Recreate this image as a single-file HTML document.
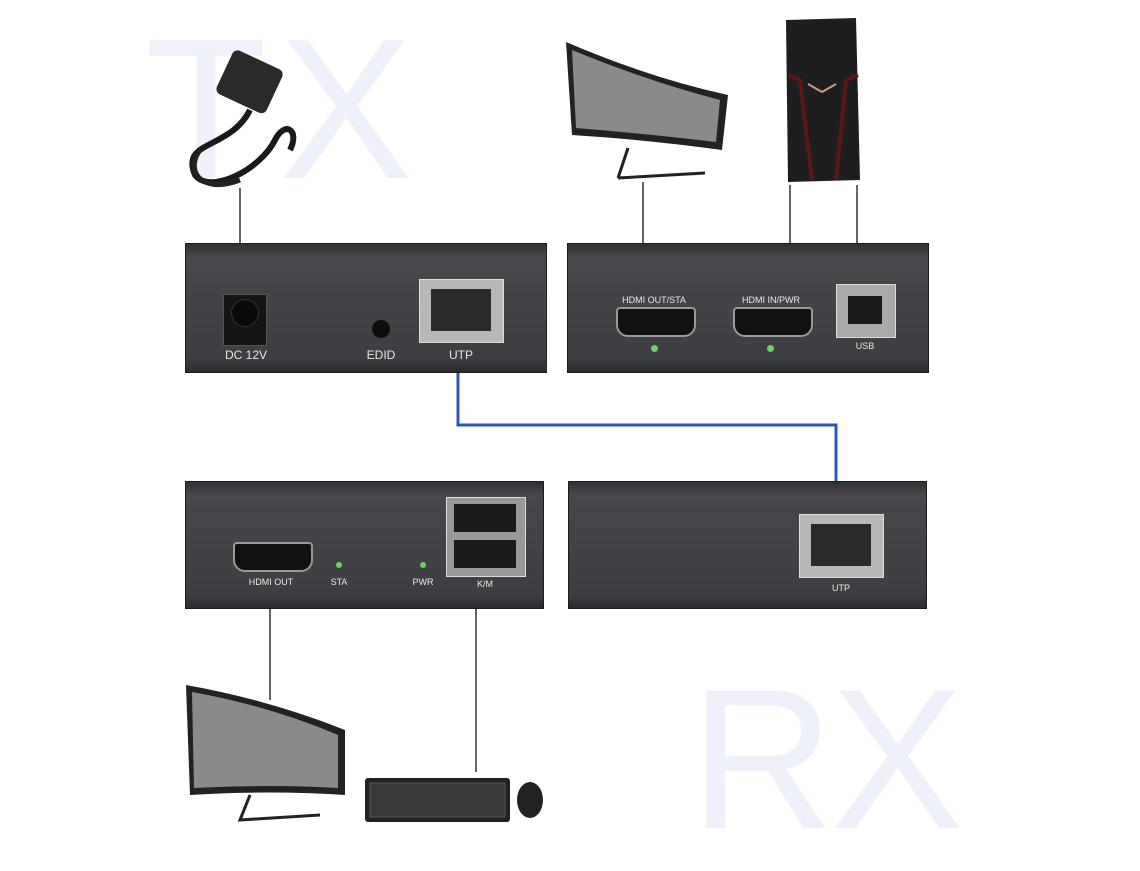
<!DOCTYPE html>
<html><head><meta charset="utf-8"><style>
html,body{margin:0;padding:0;background:#fff;}
body{width:1140px;height:855px;position:relative;overflow:hidden;font-family:"Liberation Sans",sans-serif;}
.big{position:absolute;font-size:200px;font-weight:400;color:#eef1f9;line-height:1;}
.box{position:absolute;background:linear-gradient(#2f3135,#46484c 10%,#3c3e42 90%,#2a2b2e);border:1px solid #1c1d1f;}
.lbl{position:absolute;color:#e8e8e8;font-size:12px;text-align:center;}
.sm{font-size:9px;}
</style></head><body>
<div class="big" style="left:145px;top:10px;letter-spacing:12px;">TX</div>
<div class="big" style="left:690px;top:660px;letter-spacing:-4px;">RX</div>

<svg width="1140" height="855" style="position:absolute;left:0;top:0">
<g stroke="#333" stroke-width="1.5">
<line x1="240" y1="188" x2="240" y2="245"/>
<line x1="643" y1="182" x2="643" y2="245"/>
<line x1="790" y1="185" x2="790" y2="245"/>
<line x1="857" y1="185" x2="857" y2="245"/>
<line x1="270" y1="608" x2="270" y2="700"/>
<line x1="476" y1="606" x2="476" y2="772"/>
</g>
<polyline points="458,372 458,425 836,425 836,500" fill="none" stroke="#2a57b8" stroke-width="3"/>
<g>
<rect x="222" y="58" width="55" height="48" rx="6" fill="#2a2a2a" transform="rotate(25 250 82)"/>
<path d="M250 110 C230 150 180 140 195 175 C210 195 260 170 275 140 C285 120 300 130 290 150" stroke="#1a1a1a" stroke-width="6" fill="none"/>
<path d="M200 150 C185 170 200 195 240 180" stroke="#222" stroke-width="5" fill="none"/>
</g>
<path d="M566 42 Q650 78 728 95 L722 150 Q650 140 572 135 Z" fill="#222"/>
<path d="M572 50 Q650 82 720 100 L716 142 Q650 134 576 128 Z" fill="#8a8a8a"/>
<path d="M628 148 L618 178 M618 178 L705 173" stroke="#222" stroke-width="3" fill="none"/>
<path d="M786 20 L856 18 L860 180 L788 182 Z" fill="#1e1e20"/>
<path d="M788 75 L800 80 L812 180 M858 75 L846 80 L836 180" stroke="#5a1616" stroke-width="4" fill="none"/>
<path d="M808 84 L822 92 L836 84" stroke="#c9a080" stroke-width="2" fill="none"/>
<path d="M186 685 Q270 700 345 730 L345 795 Q270 790 190 795 Z" fill="#222"/>
<path d="M192 692 Q270 706 338 735 L338 788 Q270 784 194 788 Z" fill="#8a8a8a"/>
<path d="M250 795 L240 820 L320 815" stroke="#222" stroke-width="3" fill="none"/>
<rect x="365" y="778" width="145" height="44" rx="3" fill="#222"/>
<rect x="370" y="783" width="135" height="34" fill="#3a3a3a" stroke="#555"/>
<ellipse cx="530" cy="800" rx="13" ry="18" fill="#222"/>
</svg>

<div class="box" style="left:185px;top:243px;width:360px;height:128px;">
  <div style="position:absolute;left:37px;top:50px;width:42px;height:50px;background:#151515;border:1px solid #555;"></div>
  <div style="position:absolute;left:45px;top:55px;width:26px;height:26px;border-radius:50%;background:#0a0a0a;border:1px solid #333;"></div>
  <div class="lbl" style="left:30px;top:104px;width:60px;">DC 12V</div>
  <div style="position:absolute;left:186px;top:76px;width:18px;height:18px;border-radius:50%;background:#0e0e0e;"></div>
  <div class="lbl" style="left:170px;top:104px;width:50px;">EDID</div>
  <div style="position:absolute;left:233px;top:35px;width:83px;height:62px;background:#b8b8b8;border:1px solid #ddd;"></div>
  <div style="position:absolute;left:245px;top:45px;width:60px;height:42px;background:#2a2a2a;"></div>
  <div class="lbl" style="left:250px;top:104px;width:50px;">UTP</div>
</div>
<div class="box" style="left:567px;top:243px;width:360px;height:128px;">
  <div style="position:absolute;left:48px;top:63px;width:76px;height:26px;background:#111;border:2px solid #999;border-radius:4px 4px 12px 12px;"></div>
  <div class="lbl sm" style="left:40px;top:51px;width:92px;">HDMI OUT/STA</div>
  <div style="position:absolute;left:83px;top:101px;width:7px;height:7px;border-radius:50%;background:#6bd06b;"></div>
  <div style="position:absolute;left:165px;top:63px;width:76px;height:26px;background:#111;border:2px solid #999;border-radius:4px 4px 12px 12px;"></div>
  <div class="lbl sm" style="left:160px;top:51px;width:86px;">HDMI IN/PWR</div>
  <div style="position:absolute;left:199px;top:101px;width:7px;height:7px;border-radius:50%;background:#6bd06b;"></div>
  <div style="position:absolute;left:268px;top:40px;width:58px;height:52px;background:#aaa;border:1px solid #ddd;"></div>
  <div style="position:absolute;left:280px;top:52px;width:34px;height:28px;background:#1a1a1a;"></div>
  <div class="lbl sm" style="left:272px;top:97px;width:50px;">USB</div>
</div>
<div class="box" style="left:185px;top:481px;width:357px;height:126px;">
  <div style="position:absolute;left:47px;top:60px;width:76px;height:26px;background:#111;border:2px solid #999;border-radius:4px 4px 12px 12px;"></div>
  <div class="lbl sm" style="left:45px;top:95px;width:80px;">HDMI OUT</div>
  <div style="position:absolute;left:150px;top:80px;width:6px;height:6px;border-radius:50%;background:#6bd06b;"></div>
  <div class="lbl sm" style="left:138px;top:95px;width:30px;">STA</div>
  <div style="position:absolute;left:234px;top:80px;width:6px;height:6px;border-radius:50%;background:#6bd06b;"></div>
  <div class="lbl sm" style="left:222px;top:95px;width:30px;">PWR</div>
  <div style="position:absolute;left:260px;top:15px;width:78px;height:78px;background:#999;border:1px solid #ddd;"></div>
  <div style="position:absolute;left:268px;top:22px;width:62px;height:28px;background:#1a1a1a;"></div>
  <div style="position:absolute;left:268px;top:58px;width:62px;height:28px;background:#1a1a1a;"></div>
  <div class="lbl sm" style="left:272px;top:97px;width:54px;">K/M</div>
</div>
<div class="box" style="left:568px;top:481px;width:357px;height:126px;">
  <div style="position:absolute;left:230px;top:32px;width:83px;height:62px;background:#b8b8b8;border:1px solid #ddd;"></div>
  <div style="position:absolute;left:242px;top:42px;width:60px;height:42px;background:#2a2a2a;"></div>
  <div class="lbl sm" style="left:247px;top:101px;width:50px;">UTP</div>
</div>
</body></html>
